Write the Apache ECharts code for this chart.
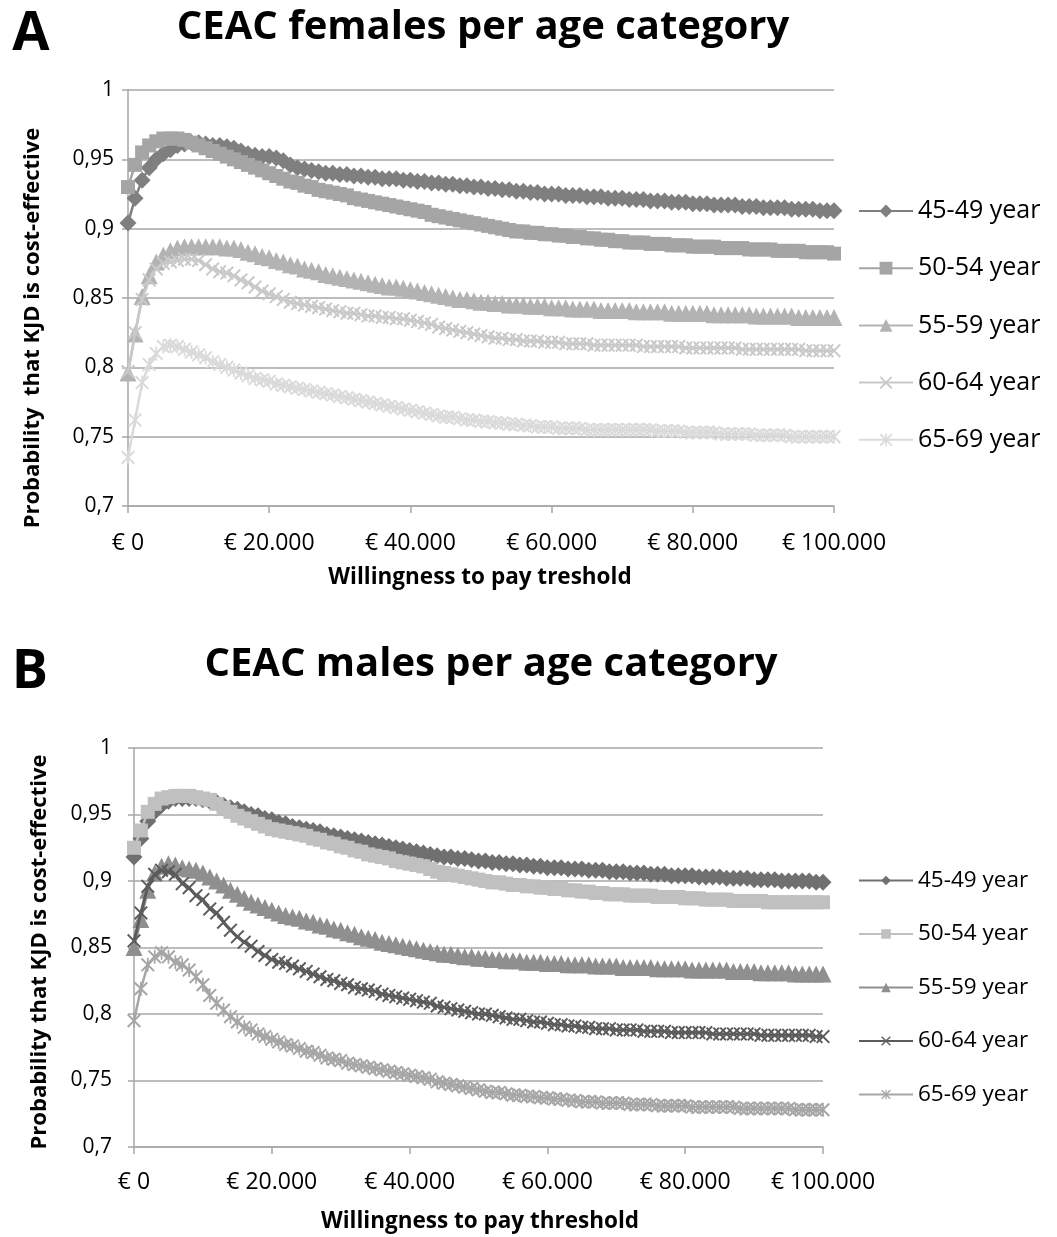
<!DOCTYPE html>
<html>
<head>
<meta charset="utf-8">
<script src="https://cdn.jsdelivr.net/npm/echarts@6/dist/echarts.min.js"></script>
<style>
html,body{margin:0;padding:0;background:#fff;}
#a{position:absolute;left:0;top:0;width:1057px;height:620px;}
#b{position:absolute;left:0;top:620px;width:1057px;height:617px;}
</style>
</head>
<body>
<div id="a"></div>
<div id="b"></div>
<script>
// Willingness-to-pay threshold in thousands of euro (category axis)
const wtpThousands = [0,1,2,3,4,5,6,7,8,9,10,11,12,13,14,15,16,17,18,19,20,21,22,23,24,25,26,27,28,29,30,31,32,33,34,35,36,37,38,39,40,41,42,43,44,45,46,47,48,49,50,51,52,53,54,55,56,57,58,59,60,61,62,63,64,65,66,67,68,69,70,71,72,73,74,75,76,77,78,79,80,81,82,83,84,85,86,87,88,89,90,91,92,93,94,95,96,97,98,99,100];
const xTickLabels = ['€ 0','€ 20.000','€ 40.000','€ 60.000','€ 80.000','€ 100.000'];
const yTickLabels = ['0,7','0,75','0,8','0,85','0,9','0,95','1'];
const seriesNames = ['45-49 year','50-54 year','55-59 year','60-64 year','65-69 year'];

// ---- Panel A: females ----
const femA4549 = [.904,.922,.935,.944,.950,.954,.957,.960,.961,.962,.962,.961,.960,.960,.959,.958,.956,.954,.953,.952,.952,.951,.949,.946,.944,.943,.942,.941,.940,.940,.939,.939,.938,.938,.937,.937,.936,.936,.936,.935,.935,.934,.934,.933,.933,.932,.932,.931,.931,.930,.930,.929,.929,.928,.928,.927,.927,.926,.926,.925,.925,.925,.924,.924,.924,.923,.923,.923,.922,.922,.922,.921,.921,.921,.920,.920,.920,.919,.919,.919,.918,.918,.918,.917,.917,.917,.917,.916,.916,.916,.915,.915,.915,.915,.914,.914,.914,.914,.913,.913,.913];
const femA5054 = [.930,.946,.955,.960,.963,.965,.965,.965,.964,.962,.960,.958,.956,.954,.952,.950,.948,.946,.944,.942,.940,.938,.936,.934,.933,.931,.930,.928,.927,.926,.925,.924,.922,.921,.920,.919,.918,.917,.916,.915,.914,.913,.912,.910,.909,.908,.907,.906,.905,.904,.903,.902,.901,.900,.899,.898,.898,.897,.897,.896,.896,.895,.895,.894,.894,.893,.893,.892,.892,.891,.891,.890,.890,.890,.889,.889,.889,.888,.888,.888,.887,.887,.887,.887,.886,.886,.886,.886,.885,.885,.885,.885,.884,.884,.884,.884,.883,.883,.883,.883,.882];
const femA5559 = [.796,.824,.851,.866,.876,.881,.884,.886,.887,.887,.887,.887,.887,.887,.886,.886,.885,.883,.882,.880,.879,.877,.876,.874,.873,.871,.870,.869,.867,.866,.865,.864,.863,.862,.861,.860,.859,.858,.858,.857,.856,.855,.854,.853,.852,.851,.850,.849,.849,.848,.847,.847,.846,.846,.845,.845,.845,.844,.844,.844,.843,.843,.843,.842,.842,.842,.842,.841,.841,.841,.841,.841,.840,.840,.840,.840,.840,.839,.839,.839,.839,.839,.839,.838,.838,.838,.838,.838,.838,.837,.837,.837,.837,.837,.837,.836,.836,.836,.836,.836,.836];
const femA6064 = [.797,.825,.849,.863,.871,.875,.876,.877,.878,.878,.877,.874,.871,.869,.868,.866,.863,.861,.858,.855,.853,.851,.849,.847,.846,.845,.844,.843,.842,.841,.840,.839,.839,.838,.837,.837,.836,.836,.835,.835,.834,.833,.832,.831,.829,.828,.827,.826,.825,.824,.823,.822,.821,.821,.820,.820,.819,.819,.819,.818,.818,.818,.817,.817,.817,.817,.816,.816,.816,.816,.816,.816,.816,.815,.815,.815,.815,.815,.815,.814,.814,.814,.814,.814,.814,.814,.814,.813,.813,.813,.813,.813,.813,.813,.813,.813,.812,.812,.812,.812,.812];
const femA6569 = [.735,.762,.789,.802,.810,.815,.816,.815,.813,.811,.809,.807,.804,.802,.800,.798,.796,.794,.792,.791,.790,.788,.787,.786,.785,.784,.783,.782,.781,.780,.779,.778,.777,.776,.775,.774,.773,.772,.771,.770,.769,.768,.767,.766,.765,.764,.764,.763,.762,.762,.761,.761,.760,.760,.759,.759,.758,.758,.757,.757,.757,.756,.756,.756,.756,.755,.755,.755,.755,.755,.755,.755,.755,.755,.755,.754,.754,.754,.754,.753,.753,.753,.753,.753,.752,.752,.752,.752,.752,.751,.751,.751,.751,.751,.750,.750,.750,.750,.750,.750,.750];

// ---- Panel B: males ----
const malB4549 = [.918,.932,.945,.952,.957,.960,.962,.962,.962,.962,.961,.960,.959,.957,.955,.954,.952,.950,.949,.947,.946,.944,.943,.941,.940,.939,.938,.937,.935,.934,.933,.932,.931,.930,.929,.928,.927,.926,.925,.924,.923,.922,.921,.920,.919,.918,.918,.917,.917,.916,.915,.915,.914,.914,.913,.913,.912,.912,.911,.911,.910,.910,.910,.909,.909,.909,.908,.908,.908,.907,.907,.907,.906,.906,.906,.905,.905,.905,.904,.904,.904,.904,.903,.903,.903,.903,.902,.902,.902,.902,.901,.901,.901,.901,.900,.900,.900,.900,.900,.899,.899];
const malB5054 = [.925,.938,.952,.958,.962,.963,.964,.964,.964,.963,.962,.961,.958,.955,.952,.949,.947,.945,.943,.941,.939,.938,.937,.936,.935,.934,.932,.931,.929,.928,.926,.925,.923,.922,.920,.919,.918,.917,.915,.914,.913,.912,.911,.909,.907,.906,.905,.904,.903,.902,.901,.900,.899,.899,.898,.897,.897,.896,.896,.895,.895,.894,.894,.893,.893,.892,.892,.891,.891,.890,.890,.890,.889,.889,.889,.889,.888,.888,.888,.888,.887,.887,.887,.886,.886,.886,.886,.885,.885,.885,.885,.885,.884,.884,.884,.884,.884,.884,.884,.884,.884];
const malB5559 = [.850,.871,.893,.906,.911,.913,.912,.910,.909,.908,.906,.903,.900,.897,.893,.890,.887,.884,.882,.880,.878,.876,.874,.873,.872,.870,.869,.867,.866,.864,.863,.861,.860,.858,.857,.856,.854,.853,.852,.851,.850,.849,.848,.847,.846,.845,.845,.844,.843,.843,.842,.842,.841,.841,.840,.840,.840,.839,.839,.839,.838,.838,.838,.837,.837,.837,.837,.836,.836,.836,.836,.835,.835,.835,.835,.835,.834,.834,.834,.834,.834,.833,.833,.833,.833,.833,.833,.832,.832,.832,.832,.831,.831,.831,.831,.831,.830,.830,.830,.830,.830];
const malB6064 = [.855,.876,.896,.905,.908,.907,.905,.898,.895,.889,.886,.879,.876,.869,.863,.858,.854,.851,.847,.844,.841,.839,.838,.836,.834,.832,.830,.828,.826,.825,.823,.822,.820,.819,.818,.817,.815,.814,.813,.812,.811,.810,.809,.808,.806,.805,.804,.803,.802,.801,.800,.800,.799,.798,.797,.796,.796,.795,.794,.794,.793,.792,.792,.791,.791,.790,.790,.789,.789,.789,.788,.788,.788,.788,.787,.787,.787,.787,.786,.786,.786,.786,.786,.786,.785,.785,.785,.785,.785,.785,.785,.784,.784,.784,.784,.784,.784,.784,.784,.783,.783];
const malB6569 = [.795,.819,.837,.843,.846,.843,.839,.837,.833,.828,.822,.814,.808,.803,.798,.794,.790,.788,.785,.783,.781,.779,.777,.776,.774,.772,.771,.769,.767,.766,.765,.763,.762,.761,.760,.759,.758,.757,.756,.755,.754,.753,.752,.751,.749,.748,.747,.746,.745,.744,.743,.742,.741,.741,.740,.739,.739,.738,.738,.737,.737,.736,.736,.735,.735,.734,.734,.734,.733,.733,.733,.733,.732,.732,.732,.732,.731,.731,.731,.731,.731,.730,.730,.730,.730,.730,.730,.730,.729,.729,.729,.729,.729,.729,.729,.729,.728,.728,.728,.728,.728];

const FONT = '"Open Sans", "Liberation Sans", sans-serif';
const X_SYM = 'path://M0,1 L1,0 L5,4 L9,0 L10,1 L6,5 L10,9 L9,10 L5,6 L1,10 L0,9 L4,5 Z';
const STAR_SYM = 'path://M0,1 L1,0 L5,4 L9,0 L10,1 L6,5 L10,9 L9,10 L5,6 L1,10 L0,9 L4,5 Z M4.4,0 L5.6,0 L5.6,10 L4.4,10 Z';
const symbols = ['diamond','rect','triangle',X_SYM,STAR_SYM];

function buildOption(cfg) {
  const cats = wtpThousands.map(v => String(v * 1000));
  const series = cfg.data.map((d, i) => ({
    name: seriesNames[i],
    type: 'line',
    data: d,
    symbol: symbols[i],
    symbolSize: cfg.symbolSizes[i],
    showSymbol: true,
    showAllSymbol: true,
    lineStyle: {color: cfg.colors[i], width: cfg.lineWidths[i]},
    itemStyle: {color: cfg.colors[i]},
    emphasis: {disabled: true},
    animation: false,
    z: 2 + i
  }));
  return {
    animation: false,
    backgroundColor: '#fff',
    grid: {left: cfg.grid.left, top: cfg.grid.top, width: cfg.grid.width, height: cfg.grid.height},
    xAxis: {
      type: 'category',
      data: cats,
      boundaryGap: false,
      axisLine: {lineStyle: {color: '#a6a6a6', width: 1.5}},
      axisTick: {show: true, length: 7, interval: (i) => i % 20 === 0, lineStyle: {color: '#a6a6a6', width: 1.5}},
      axisLabel: {
        interval: (i) => i % 20 === 0,
        formatter: (v, i) => xTickLabels[i / 20],
        color: '#000', fontFamily: FONT, fontSize: cfg.xLabelSize, margin: cfg.xLabelMargin
      },
      splitLine: {show: false}
    },
    yAxis: {
      type: 'value', min: 0.7, max: 1, interval: 0.05,
      axisLine: {show: true, lineStyle: {color: '#a6a6a6', width: 1.5}},
      axisTick: {show: true, length: 6, lineStyle: {color: '#a6a6a6', width: 1.5}},
      axisLabel: {
        formatter: (v) => yTickLabels[Math.round((v - 0.7) / 0.05)],
        color: '#000', fontFamily: FONT, fontSize: cfg.yLabelSize, margin: cfg.yLabelMargin
      },
      splitLine: {show: true, lineStyle: {color: '#a6a6a6', width: 1.5}}
    },
    legend: {
      orient: 'vertical', left: cfg.legend.left, top: cfg.legend.top,
      itemWidth: 54, itemHeight: cfg.legend.itemHeight, itemGap: cfg.legend.gap,
      data: seriesNames,
      selectedMode: false,
      textStyle: {color: '#000', fontFamily: FONT, fontSize: cfg.legend.fontSize, lineHeight: cfg.legend.lineHeight}
    },
    graphic: [
      {type: 'text', x: cfg.letter.x, y: cfg.letter.y, style: {text: cfg.letter.text, font: 'bold 54px ' + FONT, fill: '#000', align: 'center', verticalAlign: 'middle'}},
      {type: 'text', x: cfg.title.x, y: cfg.title.y, style: {text: cfg.title.text, font: 'bold 40px ' + FONT, fill: '#000', align: 'center', verticalAlign: 'middle'}},
      {type: 'text', x: cfg.yName.x, y: cfg.yName.y, rotation: Math.PI / 2, style: {text: cfg.yName.text, font: 'bold 22px ' + FONT, fill: '#000', align: 'center', verticalAlign: 'middle'}},
      {type: 'text', x: cfg.xName.x, y: cfg.xName.y, style: {text: cfg.xName.text, font: 'bold 22.5px ' + FONT, fill: '#000', align: 'center', verticalAlign: 'middle'}}
    ],
    series: series
  };
}

const chartA = echarts.init(document.getElementById('a'), null, {renderer: 'canvas'});
chartA.setOption(buildOption({
  data: [femA4549, femA5054, femA5559, femA6064, femA6569],
  colors: ['#7f7f7f', '#a5a5a5', '#b3b3b3', '#c9c9c9', '#dadada'],
  symbolSizes: [17, 14, 17, 14, 14],
  lineWidths: [2.5, 2.5, 2.5, 2.5, 2.5],
  grid: {left: 128, top: 90, width: 706, height: 416},
  xLabelSize: 23, xLabelMargin: 26,
  yLabelSize: 21, yLabelMargin: 14,
  legend: {left: 853, top: 193, itemHeight: 16, gap: 31.2, fontSize: 25, lineHeight: 26},
  letter: {text: 'A', x: 31, y: 35},
  title: {text: 'CEAC females per age category', x: 483, y: 28},
  yName: {text: 'Probability  that KJD is cost-effective', x: 33, y: 328},
  xName: {text: 'Willingness to pay treshold', x: 480, y: 578}
}));

const chartB = echarts.init(document.getElementById('b'), null, {renderer: 'canvas'});
chartB.setOption(buildOption({
  data: [malB4549, malB5054, malB5559, malB6064, malB6569],
  colors: ['#707070', '#c0c0c0', '#8f8f8f', '#5c5c5c', '#a6a6a6'],
  symbolSizes: [17, 14, 17, 14, 14],
  lineWidths: [2.5, 2.5, 2.5, 3, 2.5],
  grid: {left: 134, top: 128, width: 689, height: 399},
  xLabelSize: 23, xLabelMargin: 24,
  yLabelSize: 21, yLabelMargin: 22,
  legend: {left: 853, top: 243.5, itemHeight: 12, gap: 29.5, fontSize: 22.5, lineHeight: 24},
  letter: {text: 'B', x: 30, y: 53},
  title: {text: 'CEAC males per age category', x: 491, y: 45},
  yName: {text: 'Probability that KJD is cost-effective', x: 40, y: 332},
  xName: {text: 'Willingness to pay threshold', x: 480, y: 602}
}));
</script>
</body>
</html>
